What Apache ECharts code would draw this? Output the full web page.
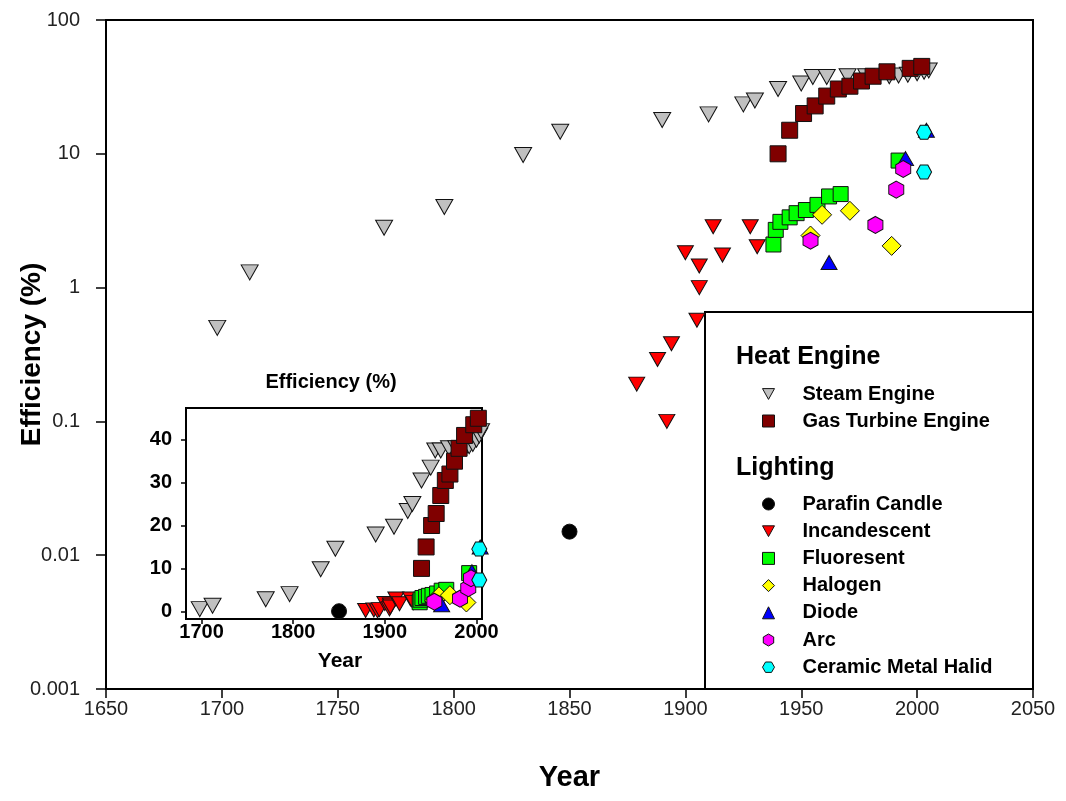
<!DOCTYPE html>
<html><head><meta charset="utf-8">
<script src="https://cdn.jsdelivr.net/npm/echarts@6/dist/echarts.min.js"></script>
<style>html,body{margin:0;padding:0;background:#fff}#c{width:1066px;height:801px}</style>
</head><body><div id="c"></div>
<script>
// ---- data (year, efficiency %) ----
const steamYears = [1698, 1712, 1770, 1796, 1830, 1846, 1890, 1910, 1925, 1930, 1940, 1950, 1955, 1961, 1970, 1978, 1988, 1992, 1996, 2000, 2003, 2005];
const steamEff   = [0.5, 1.3, 2.8, 4.0, 9.8, 14.6, 17.9, 19.7, 23.4, 25.0, 30.5, 33.5, 37.5, 37.5, 38, 38, 38, 38.5, 39, 40, 41, 42];
const gasYears = [1940, 1945, 1951, 1956, 1961, 1966, 1971, 1976, 1981, 1987, 1997, 2002];
const gasEff   = [10, 15, 20, 22.8, 27, 30.5, 32, 35, 38, 41, 43.5, 45];
const candleYears = [1850];
const candleEff   = [0.015];
const incYears = [1879, 1888, 1892, 1894, 1900, 1905, 1906, 1906, 1912, 1916, 1928, 1931];
const incEff   = [0.19, 0.29, 0.1, 0.38, 1.82, 0.57, 1.45, 1.0, 2.85, 1.75, 2.85, 2.02];
const fluoYears = [1938, 1939, 1941, 1945, 1948, 1952, 1957, 1962, 1967, 1992];
const fluoEff   = [2.1, 2.7, 3.1, 3.35, 3.6, 3.8, 4.15, 4.8, 5.0, 8.9];
const haloYears = [1954, 1959, 1971, 1989];
const haloEff   = [2.45, 3.5, 3.75, 2.05];
const diodeYears = [1962, 1995, 2004];
const diodeEff   = [1.54, 9.2, 15];
const arcYears = [1954, 1982, 1991, 1994];
const arcEff   = [2.24, 2.94, 5.4, 7.7];
const cmhYears = [2003, 2003];
const cmhEff   = [7.3, 14.5];

const heatNames = ['Steam Engine', 'Gas Turbine Engine'];
const lightNames = ['Parafin Candle', 'Incandescent', 'Fluoresent', 'Halogen', 'Diode', 'Arc', 'Ceramic Metal Halid'];
const insetXTicks = [1700, 1800, 1900, 2000];
const insetYTicks = [0, 10, 20, 30, 40];

// ---- styling ----
const HEX = 'path://M0,-1L0.866,-0.5L0.866,0.5L0,1L-0.866,0.5L-0.866,-0.5Z';
const HEXF = 'path://M-1,0L-0.5,-0.866L0.5,-0.866L1,0L0.5,0.866L-0.5,0.866Z';
const DOWN = 'path://M-1,-0.9L1,-0.9L0,0.9Z';
const defs = [
  {name: heatNames[0], x: steamYears, y: steamEff, symbol: 'triangle', rot: 180, icon: DOWN, size: [17, 15], color: '#c0c0c0'},
  {name: heatNames[1], x: gasYears, y: gasEff, symbol: 'rect', rot: 0, size: 16, color: '#800000'},
  {name: lightNames[0], x: candleYears, y: candleEff, symbol: 'circle', rot: 0, size: 15, color: '#000000'},
  {name: lightNames[1], x: incYears, y: incEff, symbol: 'triangle', rot: 180, icon: DOWN, size: [16, 14], color: '#ff0000'},
  {name: lightNames[2], x: fluoYears, y: fluoEff, symbol: 'rect', rot: 0, size: 15, color: '#00ff00'},
  {name: lightNames[3], x: haloYears, y: haloEff, symbol: 'diamond', rot: 0, size: 19, color: '#ffff00'},
  {name: lightNames[4], x: diodeYears, y: diodeEff, symbol: 'triangle', rot: 0, size: [16, 14], color: '#0000ff'},
  {name: lightNames[5], x: arcYears, y: arcEff, symbol: HEX, rot: 0, size: [15, 17], color: '#ff00ff'},
  {name: lightNames[6], x: cmhYears, y: cmhEff, symbol: HEXF, rot: 0, size: [15, 14], color: '#00ffff'}
];
const zip = (a, b) => a.map((v, i) => [v, b[i]]);
const FONT = 'Liberation Sans, Arial, sans-serif';

const series = [];
defs.forEach(d => {
  [0, 1].forEach(g => {
    series.push({
      type: 'scatter', name: d.name, xAxisIndex: g, yAxisIndex: g,
      data: zip(d.x, d.y), symbol: d.symbol, symbolSize: d.size, symbolRotate: d.rot,
      clip: g === 0, z: 3,
      itemStyle: {color: d.color, borderColor: '#111', borderWidth: 1, opacity: 1},
      emphasis: {disabled: true}
    });
  });
});
const legendItems = names => names.map(n => {
  const d = defs.find(e => e.name === n);
  return d.icon ? {name: n, icon: d.icon} : {name: n};
});

const legendText = {fontFamily: FONT, fontWeight: 'bold', fontSize: 20, color: '#000', padding: [0, 0, 0, 23]};
const plain = v => String(v);
const option = {
  animation: false,
  backgroundColor: '#fff',
  grid: [
    {left: 106, top: 20, width: 927, height: 669, outerBoundsMode: 'none', containLabel: false,
     show: true, borderColor: '#000', borderWidth: 2, backgroundColor: 'transparent'},
    {left: 186, top: 408, width: 296, height: 211, outerBoundsMode: 'none', containLabel: false,
     show: true, borderColor: '#000', borderWidth: 2, backgroundColor: '#fff', z: 1}
  ],
  xAxis: [
    {type: 'value', gridIndex: 0, min: 1650, max: 2050, interval: 50,
     splitLine: {show: false},
     axisLine: {onZero: false, lineStyle: {color: '#000', width: 2}},
     axisTick: {length: 9, lineStyle: {color: '#000', width: 1.5}},
     axisLabel: {fontFamily: FONT, fontSize: 20, color: '#222', margin: 10, formatter: plain},
     name: 'Year', nameLocation: 'middle', nameGap: 74, nameMoveOverlap: false,
     nameTextStyle: {fontFamily: FONT, fontSize: 29, fontWeight: 'bold', color: '#000'}},
    {type: 'value', gridIndex: 1, min: 1683, max: 2006,
     splitLine: {show: false},
     axisLine: {onZero: false, lineStyle: {color: '#000', width: 2}},
     axisTick: {length: 5, customValues: insetXTicks, lineStyle: {color: '#000', width: 1.5}},
     axisLabel: {customValues: insetXTicks, fontFamily: FONT, fontSize: 20, fontWeight: 'bold', color: '#000', margin: 3, formatter: plain},
     name: 'Year', nameLocation: 'middle', nameGap: 32, nameMoveOverlap: false,
     nameTextStyle: {fontFamily: FONT, fontSize: 21, fontWeight: 'bold', color: '#000', padding: [0, 0, 0, 12]}}
  ],
  yAxis: [
    {type: 'log', logBase: 10, gridIndex: 0, min: 0.001, max: 100,
     splitLine: {show: false}, minorTick: {show: false},
     axisLine: {onZero: false, lineStyle: {color: '#000', width: 2}},
     axisTick: {length: 10, lineStyle: {color: '#000', width: 1.5}},
     axisLabel: {fontFamily: FONT, fontSize: 20, color: '#222', margin: 26,
       formatter: v => String(+Number(v).toPrecision(1))},
     name: 'Efficiency (%)', nameLocation: 'middle', nameGap: 60, nameMoveOverlap: false,
     nameTextStyle: {fontFamily: FONT, fontSize: 28, fontWeight: 'bold', color: '#000'}},
    {type: 'value', gridIndex: 1, min: -1.8, max: 47.4,
     splitLine: {show: false},
     axisLine: {onZero: false, lineStyle: {color: '#000', width: 2}},
     axisTick: {length: 5, customValues: insetYTicks, lineStyle: {color: '#000', width: 1.5}},
     axisLabel: {customValues: insetYTicks, fontFamily: FONT, fontSize: 20, fontWeight: 'bold', color: '#000', margin: 14}}
  ],
  legend: [
    {data: legendItems(heatNames), orient: 'vertical', left: 762, top: 384, padding: 0, itemWidth: 12, itemHeight: 12, itemGap: 7,
     selectedMode: false, textStyle: legendText, itemStyle: {borderColor: '#111', borderWidth: 1}},
    {data: legendItems(lightNames), orient: 'vertical', left: 762, top: 494, padding: 0, itemWidth: 12, itemHeight: 12, itemGap: 7.2,
     selectedMode: false, textStyle: legendText, itemStyle: {borderColor: '#111', borderWidth: 1}}
  ],
  graphic: [
    {type: 'rect', z: 1, shape: {x: 705, y: 312, width: 328, height: 377},
     style: {fill: '#fff', stroke: '#000', lineWidth: 2}},
    {type: 'text', z: 5, x: 736, y: 357, style: {text: 'Heat Engine', fontFamily: FONT, fontWeight: 'bold', fontSize: 25, fill: '#000', verticalAlign: 'middle'}},
    {type: 'text', z: 5, x: 736, y: 468, style: {text: 'Lighting', fontFamily: FONT, fontWeight: 'bold', fontSize: 25, fill: '#000', verticalAlign: 'middle'}},
    {type: 'text', z: 5, x: 331, y: 382, style: {text: 'Efficiency (%)', fontFamily: FONT, fontWeight: 'bold', fontSize: 20, fill: '#000', align: 'center', verticalAlign: 'middle'}}
  ],
  series: series
};
const chart = echarts.init(document.getElementById('c'), null, {renderer: 'canvas'});
chart.setOption(option);
</script>
</body></html>
